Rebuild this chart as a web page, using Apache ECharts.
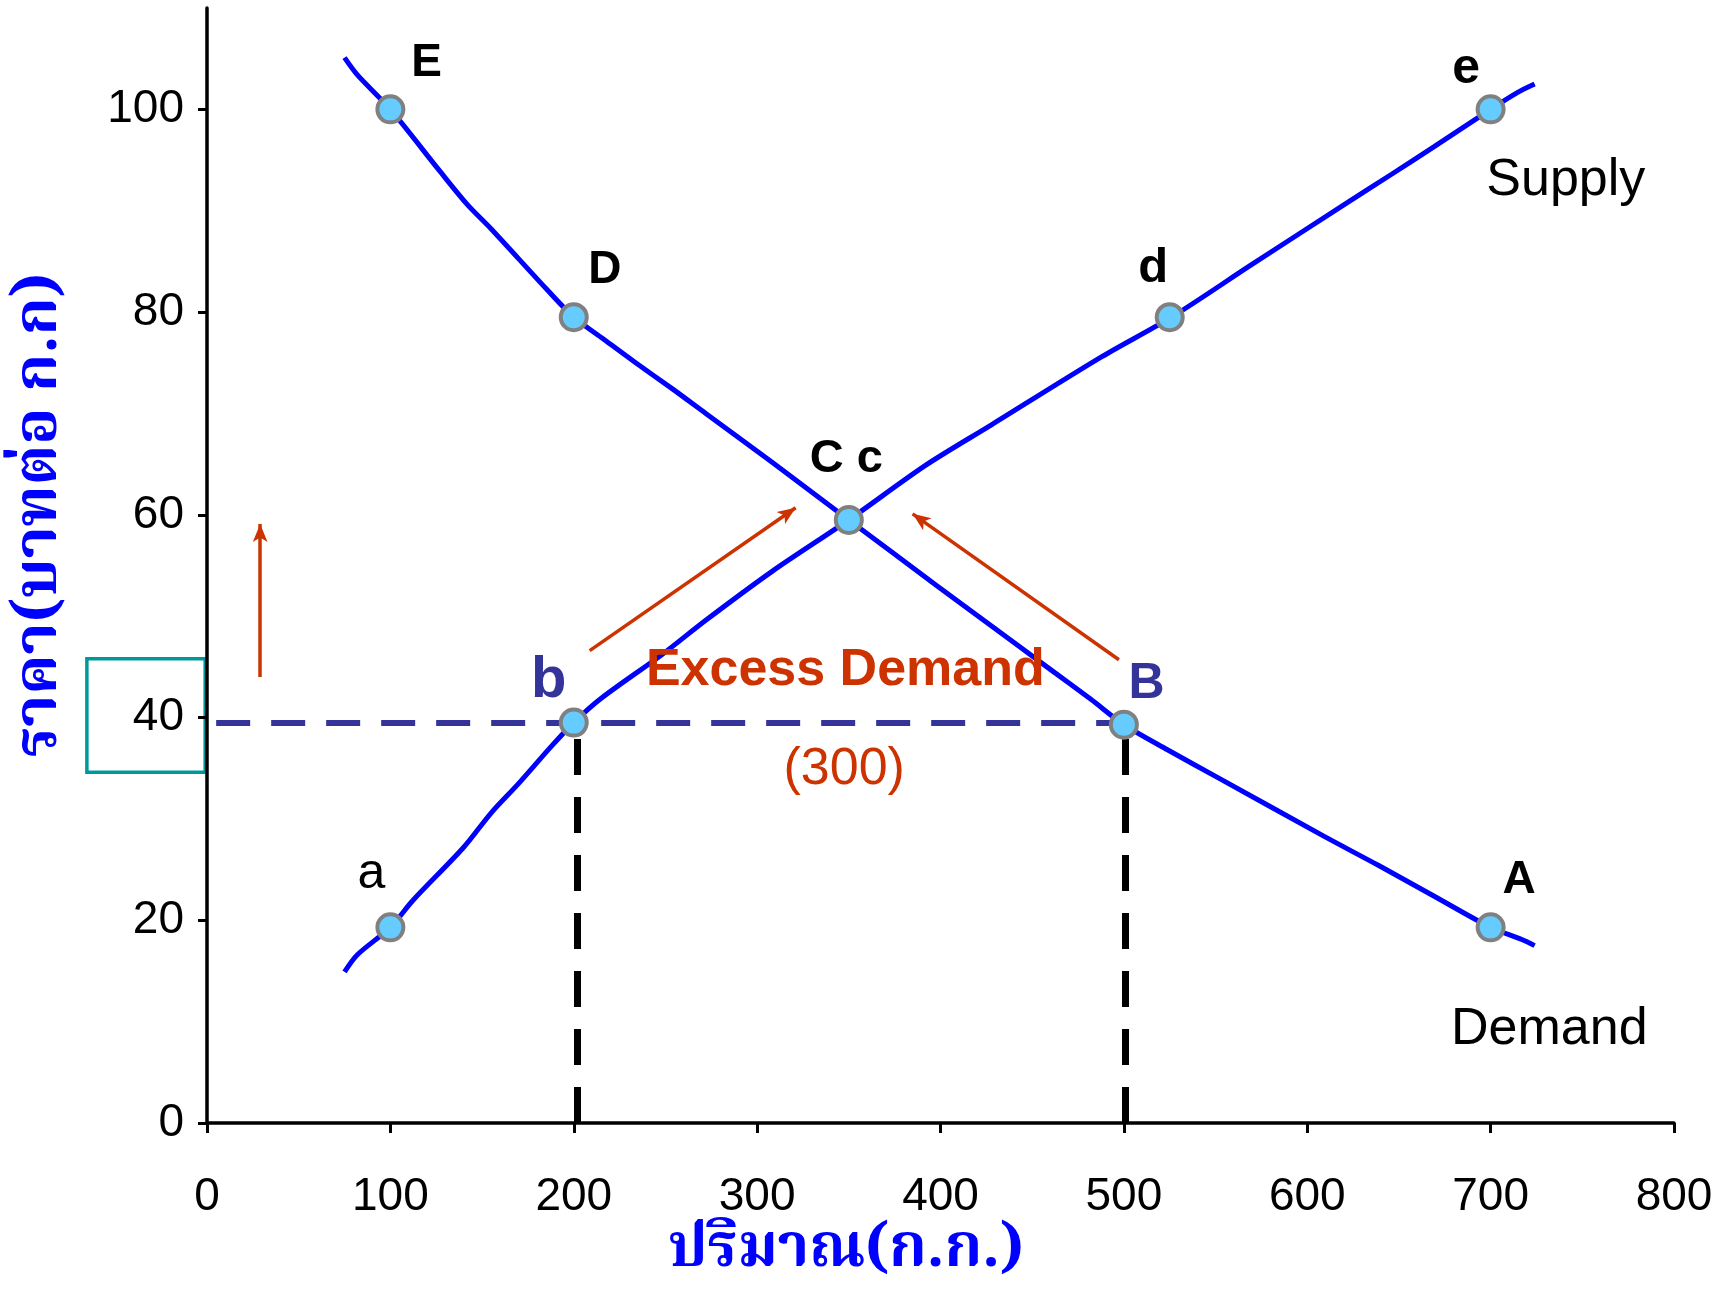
<!DOCTYPE html>
<html>
<head>
<meta charset="utf-8">
<script src="https://cdn.jsdelivr.net/npm/echarts@6/dist/echarts.min.js"></script>
<style>
  html, body { margin: 0; padding: 0; background: #fff; }
  #chart { width: 1730px; height: 1293px; }
</style>
</head>
<body>
<div id="chart"></div>
<script>
// demand curve (quantity, price)
var demandQty = [75, 82, 100, 127, 142, 155, 185, 200, 215, 233, 254, 272, 308, 350, 398, 428, 458, 482, 500, 524, 551, 609, 639, 669, 700, 717, 724];
var demandPrice = [105.1, 103.4, 100, 93.9, 90.6, 88.2, 82.3, 79.5, 77.5, 75.1, 72.4, 70.0, 65.2, 59.5, 53.0, 49.0, 45.0, 41.8, 39.3, 36.8, 34.1, 28.3, 25.4, 22.4, 19.3, 18.1, 17.5];
// supply curve
var supplyQty = [75, 82, 100, 112, 140, 155, 170, 188, 200, 215, 248, 272, 308, 350, 392, 428, 488, 526, 569, 621, 646, 669, 700, 715, 724];
var supplyPrice = [14.9, 16.6, 19.3, 21.9, 27.2, 30.6, 33.5, 37.2, 39.5, 41.9, 46.2, 49.6, 54.4, 59.5, 64.9, 68.9, 75.6, 79.5, 84.6, 90.7, 93.6, 96.3, 100, 101.7, 102.5];
// marked points E D C B A / a b d e
var pointQty = [100, 200, 350, 500, 700, 100, 200, 525, 700];
var pointPrice = [100, 79.5, 59.5, 39.3, 19.3, 19.3, 39.5, 79.5, 100];
// tick labels
var xTicks = [0, 100, 200, 300, 400, 500, 600, 700, 800];
var yTicks = [0, 20, 40, 60, 80, 100];
// excess demand at price 40: from b to B
var shortageQty = [200, 500];
var shortagePrice = 39.5;

function zip(xs, ys) {
    return xs.map(function (x, i) { return [x, ys[i]]; });
}

// text placed in the plot (data coordinates)
var notes = [
    { text: 'E', at: [119.7, 104.5], size: 46, bold: true, color: '#000' },
    { text: 'D', at: [217, 84.1], size: 46, bold: true, color: '#000' },
    { text: 'C c', at: [348.7, 65.5], size: 47, bold: true, color: '#000' },
    { text: 'b', at: [186.4, 43.6], size: 58, bold: true, color: '#333399' },
    { text: 'B', at: [512.3, 43.3], size: 50, bold: true, color: '#333399' },
    { text: 'A', at: [715.6, 23.9], size: 46, bold: true, color: '#000' },
    { text: 'a', at: [89.6, 24.5], size: 50, bold: false, color: '#000' },
    { text: 'd', at: [516, 84.3], size: 49, bold: true, color: '#000' },
    { text: 'e', at: [686.7, 104.0], size: 50, bold: true, color: '#000' },
    { text: 'Supply', at: [741, 93.0], size: 52, bold: false, color: '#000' },
    { text: 'Demand', at: [732, 9.25], size: 52, bold: false, color: '#000' },
    { text: 'Excess Demand', at: [348.1, 44.6], size: 52, bold: true, color: '#cc3300' },
    { text: '(300)', at: [347.5, 34.9], size: 52, bold: false, color: '#cc3300' }
];

var font = '"Liberation Sans", Arial, sans-serif';
var thaiFont = '"Noto Serif Thai", "Noto Sans Thai Looped", "Noto Sans Thai", Loma, Garuda, Norasi, Tahoma, sans-serif';

var myChart = echarts.init(document.getElementById('chart'));

var option = {
    animation: false,
    grid: { left: 207, right: 56, top: 8, bottom: 170, containLabel: false },
    xAxis: {
        type: 'value', min: 0, max: 800, interval: 100,
        splitLine: { show: false },
        axisLine: { onZero: false, lineStyle: { color: '#000', width: 3.5 } },
        axisTick: { length: 10, lineStyle: { color: '#000', width: 3 } },
        axisLabel: {
            margin: 51, color: '#000', fontSize: 46, fontFamily: font,
            customValues: xTicks
        }
    },
    yAxis: {
        type: 'value', min: 0, max: 110, interval: 20,
        splitLine: { show: false },
        axisLine: { onZero: false, lineStyle: { color: '#000', width: 3.5 } },
        axisTick: { length: 9, lineStyle: { color: '#000', width: 3 }, customValues: yTicks },
        axisLabel: {
            margin: 23, color: '#000', fontSize: 46, fontFamily: font,
            customValues: yTicks
        }
    },
    series: [
        {
            // guide lines and arrows
            type: 'line', data: [], silent: true,
            markLine: {
                silent: true, symbol: ['none', 'none'], label: { show: false },
                emphasis: { disabled: true },
                data: [
                    [{ coord: [5, shortagePrice], lineStyle: { color: '#333399', width: 6, type: [34, 21] } },
                     { coord: [shortageQty[1], shortagePrice] }],
                    [{ coord: [shortageQty[0] + 2, 0], lineStyle: { color: '#000', width: 7, type: [36, 22] } },
                     { coord: [shortageQty[0] + 2, 38] }],
                    [{ coord: [shortageQty[1] + 1, 0], lineStyle: { color: '#000', width: 7, type: [36, 22] } },
                     { coord: [shortageQty[1] + 1, 38] }],
                    [{ coord: [29, 44], symbol: 'none', lineStyle: { color: '#cc3300', width: 3.5, type: 'solid' } },
                     { coord: [29, 59.1], symbol: 'arrow', symbolSize: [11, 18] }],
                    [{ coord: [208.7, 46.6], symbol: 'none', lineStyle: { color: '#cc3300', width: 3.5, type: 'solid' } },
                     { coord: [321, 60.7], symbol: 'arrow', symbolSize: [11, 18] }],
                    [{ coord: [497.3, 45.7], symbol: 'none', lineStyle: { color: '#cc3300', width: 3.5, type: 'solid' } },
                     { coord: [384.8, 60.1], symbol: 'arrow', symbolSize: [11, 18] }]
                ]
            }
        },
        {
            name: 'Demand', type: 'line', data: zip(demandQty, demandPrice),
            showSymbol: false, smooth: 0.3, z: 3,
            lineStyle: { color: '#0000ff', width: 5 }
        },
        {
            name: 'Supply', type: 'line', data: zip(supplyQty, supplyPrice),
            showSymbol: false, smooth: 0.3, z: 3,
            lineStyle: { color: '#0000ff', width: 5 }
        },
        {
            type: 'scatter', data: zip(pointQty, pointPrice), z: 5,
            symbol: 'circle', symbolSize: 26,
            itemStyle: { color: '#66ccff', borderColor: '#808080', borderWidth: 4, opacity: 1 }
        },
        {
            type: 'scatter', z: 6, silent: true, symbolSize: 1,
            itemStyle: { color: 'transparent', opacity: 1 },
            data: notes.map(function (n) {
                return {
                    value: n.at,
                    label: {
                        show: true, position: 'inside', formatter: n.text, opacity: 1,
                        fontSize: n.size, fontWeight: n.bold ? 'bold' : 'normal',
                        color: n.color, fontFamily: font, textBorderWidth: 0
                    }
                };
            })
        }
    ]
};

myChart.setOption(option);

// box around the 40 tick label and axis titles
var boxTL = myChart.convertToPixel({ gridIndex: 0 }, [-65.5, 45.8]);
var boxBR = myChart.convertToPixel({ gridIndex: 0 }, [-1, 34.6]);
myChart.setOption({
    graphic: [
        {
            type: 'rect', silent: true,
            shape: { x: boxTL[0], y: boxTL[1], width: boxBR[0] - boxTL[0], height: boxBR[1] - boxTL[1] },
            style: { fill: 'none', stroke: '#009999', lineWidth: 3.5 }
        },
        {
            type: 'text', x: 46, y: 515, rotation: Math.PI / 2, silent: true,
            style: {
                text: 'ราคา(บาทต่อ ก.ก)', fill: '#0000ff', font: 'bold 61px ' + thaiFont,
                align: 'center', verticalAlign: 'middle'
            }
        },
        {
            type: 'text', x: 846, y: 1256, silent: true,
            style: {
                text: 'ปริมาณ(ก.ก.)', fill: '#0000ff', font: 'bold 60px ' + thaiFont,
                align: 'center', verticalAlign: 'middle'
            }
        }
    ]
});
</script>
</body>
</html>
